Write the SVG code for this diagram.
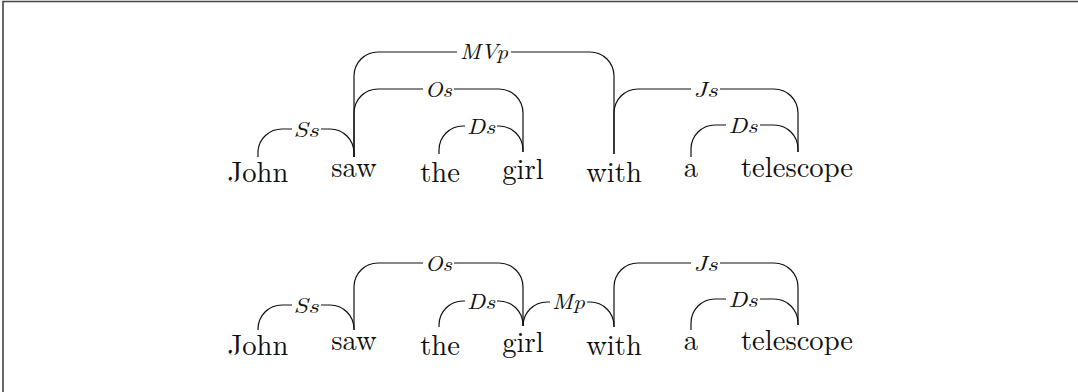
<svg xmlns="http://www.w3.org/2000/svg" width="1078" height="392" viewBox="0 0 1078 392">
<style>
.w{font-family:'Latin Modern Roman','CMU Serif','Liberation Serif','Noto Serif','DejaVu Serif','Nimbus Roman','FreeSerif','Times New Roman',Times,serif;font-size:28.6px;fill:#111;text-anchor:middle}
.lk{fill:none;stroke:#111;stroke-width:1.2}
.lb{font-family:'Latin Modern Roman','CMU Serif','Liberation Serif','Noto Serif','DejaVu Serif','Nimbus Roman','FreeSerif','Times New Roman',Times,serif;font-style:italic;font-size:21px;fill:#111;text-anchor:middle}
.bg{fill:#fff}
</style>
<rect width="1078" height="392" fill="#fff"/>
<path d="M3,392 V1.5 H1078" fill="none" stroke="#444" stroke-width="1.6"/>
<g id="row1-words">
<g id="w1-john"><text class="w" x="258" y="182">John</text></g>
<g id="w1-saw"><text class="w" x="354" y="177">saw</text></g>
<g id="w1-the"><text class="w" x="440" y="182">the</text></g>
<g id="w1-girl"><text class="w" x="523" y="179">girl</text></g>
<g id="w1-with"><text class="w" x="614" y="182">with</text></g>
<g id="w1-a"><text class="w" x="691" y="177">a</text></g>
<g id="w1-telescope"><text class="w" x="797" y="177">telescope</text></g>
</g>
<g id="row2-words">
<g id="w2-john"><text class="w" x="258" y="355">John</text></g>
<g id="w2-saw"><text class="w" x="354" y="350">saw</text></g>
<g id="w2-the"><text class="w" x="440" y="355">the</text></g>
<g id="w2-girl"><text class="w" x="523" y="352">girl</text></g>
<g id="w2-with"><text class="w" x="614" y="355">with</text></g>
<g id="w2-a"><text class="w" x="691" y="350">a</text></g>
<g id="w2-telescope"><text class="w" x="797" y="350">telescope</text></g>
</g>
<g id="connectors">
<path class="lk" d="M258,157 V151 A24,24 0 0 1 282,129 H330 A24,24 0 0 1 354,153 V157"/>
<path class="lk" d="M354,157 V76 A24,24 0 0 1 378,52 H590 A24,24 0 0 1 614,76 V154"/>
<path class="lk" d="M354,157 V113 A24,24 0 0 1 378,89 H499 A24,24 0 0 1 523,113 V152"/>
<path class="lk" d="M439,154 V150 A24,24 0 0 1 463,126 H499 A24,24 0 0 1 523,150 V152"/>
<path class="lk" d="M614,154 V113 A24,24 0 0 1 638,89 H774 A24,24 0 0 1 798,113 V152"/>
<path class="lk" d="M691,157 V149 A24,24 0 0 1 715,125 H774 A24,24 0 0 1 798,149 V152"/>
<path class="lk" d="M258,330 V329 A24,24 0 0 1 282,305 H330 A24,24 0 0 1 354,329 V330"/>
<path class="lk" d="M354,330 V287 A24,24 0 0 1 378,263 H499 A24,24 0 0 1 523,287 V326"/>
<path class="lk" d="M439,327 V325 A24,24 0 0 1 463,301 H499 A24,24 0 0 1 523,325 V326"/>
<path class="lk" d="M523,326 A24,24 0 0 1 547,302 H590 A24,24 0 0 1 614,326 V327"/>
<path class="lk" d="M614,327 V287 A24,24 0 0 1 638,263 H774 A24,24 0 0 1 798,287 V325"/>
<path class="lk" d="M691,330 V323 A24,24 0 0 1 715,299 H774 A24,24 0 0 1 798,323 V325"/>
<rect class="bg" x="292" y="120" width="29" height="18"/>
<rect class="bg" x="457" y="43" width="54" height="18"/>
<rect class="bg" x="423" y="80" width="31" height="18"/>
<rect class="bg" x="465" y="117" width="32" height="18"/>
<rect class="bg" x="691" y="80" width="29" height="18"/>
<rect class="bg" x="726" y="116" width="34" height="18"/>
<rect class="bg" x="292" y="296" width="29" height="18"/>
<rect class="bg" x="423" y="254" width="31" height="18"/>
<rect class="bg" x="465" y="292" width="32" height="18"/>
<rect class="bg" x="550" y="293" width="37" height="18"/>
<rect class="bg" x="691" y="254" width="29" height="18"/>
<rect class="bg" x="726" y="290" width="34" height="18"/>
<text class="lb" x="306" y="137" textLength="25" lengthAdjust="spacingAndGlyphs">Ss</text>
<text class="lb" x="484" y="59" textLength="48" lengthAdjust="spacingAndGlyphs">MVp</text>
<text class="lb" x="438.5" y="96.5" textLength="27" lengthAdjust="spacingAndGlyphs">Os</text>
<text class="lb" x="481" y="133.5" textLength="28" lengthAdjust="spacingAndGlyphs">Ds</text>
<text class="lb" x="705.5" y="96.5" textLength="24" lengthAdjust="spacingAndGlyphs">Js</text>
<text class="lb" x="743" y="132.5" textLength="29" lengthAdjust="spacingAndGlyphs">Ds</text>
<text class="lb" x="306" y="312.5" textLength="25" lengthAdjust="spacingAndGlyphs">Ss</text>
<text class="lb" x="438.5" y="270.5" textLength="27" lengthAdjust="spacingAndGlyphs">Os</text>
<text class="lb" x="481" y="308.5" textLength="28" lengthAdjust="spacingAndGlyphs">Ds</text>
<text class="lb" x="568.5" y="309" textLength="33" lengthAdjust="spacingAndGlyphs">Mp</text>
<text class="lb" x="705.5" y="270.5" textLength="24" lengthAdjust="spacingAndGlyphs">Js</text>
<text class="lb" x="743" y="306.5" textLength="29" lengthAdjust="spacingAndGlyphs">Ds</text>
</g>
</svg>
